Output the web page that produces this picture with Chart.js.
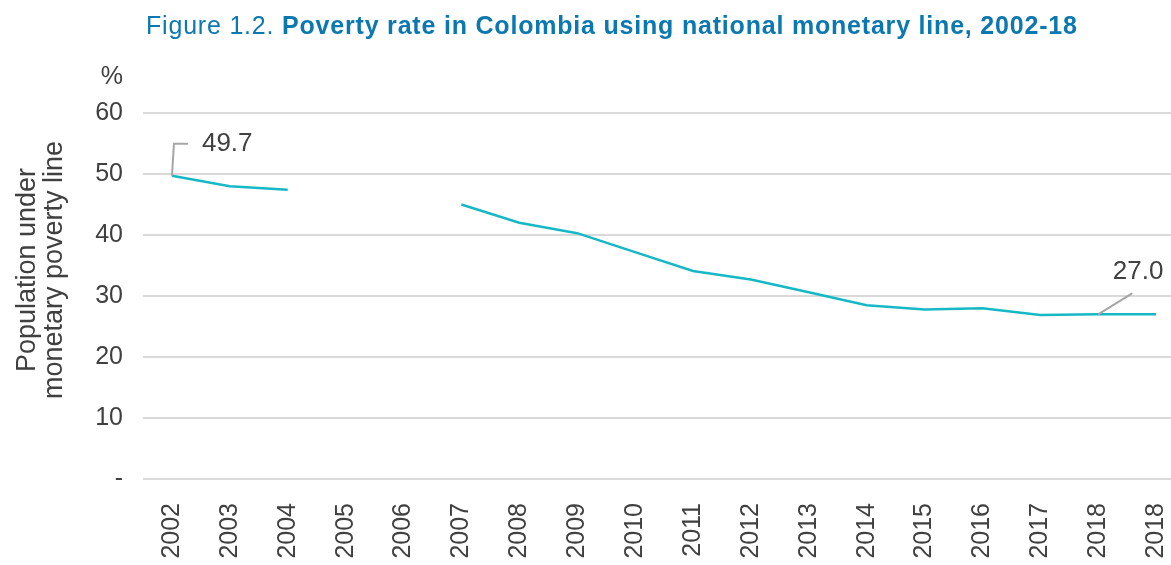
<!DOCTYPE html>
<html>
<head>
<meta charset="utf-8">
<script src="https://cdn.jsdelivr.net/npm/chart.js@4"></script>
<style>
  html, body { margin: 0; padding: 0; background: #ffffff; overflow: hidden; }
  #povertyChart { position: absolute; left: 0; top: 0; }
  #title {
    position: absolute; left: 146px; top: 13px; white-space: nowrap;
    font-family: "Liberation Sans", Arial, Helvetica, sans-serif;
    font-size: 25px; line-height: 25px; letter-spacing: 0.8px; color: #0b78b0; z-index: 2;
  }
  #title b { font-weight: bold; }
</style>
</head>
<body>
<div id="title">Figure 1.2. <b>Poverty rate in Colombia using national monetary line, 2002-18</b></div>
<canvas id="povertyChart" width="1185" height="565"></canvas>
<script>
// data
const years = ['2002', '2003', '2004', '2005', '2006', '2007', '2008', '2009', '2010',
               '2011', '2012', '2013', '2014', '2015', '2016', '2017', '2018', '2018'];
const povertyRate = [49.7, 48.0, 47.4, null, null, 45.0, 42.0, 40.3, 37.2,
                     34.1, 32.7, 30.6, 28.5, 27.8, 28.0, 26.9, 27.0, 27.0];
const yTicks = [0, 10, 20, 30, 40, 50, 60];
const labelledPoints = [0, 16];   // points that carry a value label
const yTitle = ['Population under', 'monetary poverty line'];
const yUnit = '%';

const FONT = '"Liberation Sans", Arial, Helvetica, sans-serif';
const TEXT = '#404040';

// value labels with leader lines + axis title + unit
const extrasPlugin = {
    id: 'extras',
    afterDraw(chart) {
        const ctx = chart.ctx;
        const meta = chart.getDatasetMeta(0);
        const yScale = chart.scales.y;
        ctx.save();
        ctx.font = '25px ' + FONT;
        ctx.fillStyle = TEXT;

        // unit above the y ticks
        ctx.textAlign = 'right';
        ctx.textBaseline = 'middle';
        ctx.fillText(yUnit, yScale.right - 20, yScale.top - 36);

        // rotated y-axis title
        ctx.save();
        ctx.font = '27px ' + FONT;
        ctx.translate(28, 270);
        ctx.rotate(-Math.PI / 2);
        ctx.textAlign = 'center';
        yTitle.forEach((line, i) => ctx.fillText(line, 0, i * 27));
        ctx.restore();

        // labels
        ctx.font = '26px ' + FONT;
        ctx.strokeStyle = '#a6a6a6';
        ctx.lineWidth = 2;
        labelledPoints.forEach((idx, n) => {
            const p = meta.data[idx];
            const txt = povertyRate[idx].toFixed(1);
            ctx.beginPath();
            if (n === 0) {
                ctx.moveTo(p.x, p.y);
                ctx.lineTo(p.x + 2, p.y - 32);
                ctx.lineTo(p.x + 16, p.y - 32);
                ctx.stroke();
                ctx.textAlign = 'left';
                ctx.fillText(txt, p.x + 30, p.y - 32);
            } else {
                ctx.moveTo(p.x, p.y);
                ctx.lineTo(p.x + 34, p.y - 21);
                ctx.stroke();
                ctx.textAlign = 'center';
                ctx.fillText(txt, p.x + 40, p.y - 42);
            }
        });
        ctx.restore();
    }
};

new Chart(document.getElementById('povertyChart'), {
    type: 'line',
    data: {
        labels: years,
        datasets: [{
            data: povertyRate,
            borderColor: '#17b8c5',
            borderWidth: 2.5,
            pointRadius: 0,
            tension: 0,
            spanGaps: false
        }]
    },
    options: {
        responsive: false,
        animation: false,
        layout: { padding: { top: 113, left: 0, right: 0, bottom: 0 } },
        plugins: {
            legend: { display: false },
            tooltip: { enabled: false },
            title: { display: false }
        },
        scales: {
            x: {
                offset: true,
                grid: { display: false, drawTicks: false },
                border: { display: false },
                ticks: {
                    autoSkip: false,
                    maxRotation: 90,
                    minRotation: 90,
                    padding: 24,
                    color: TEXT,
                    font: { family: FONT, size: 25 }
                },
                afterFit: s => {
                    s.height = 86;
                    s.paddingLeft = 0;
                    s.paddingRight = 0;
                }
            },
            y: {
                min: 0,
                max: 60,
                afterBuildTicks: s => { s.ticks = yTicks.map(v => ({ value: v })); },
                grid: { color: '#d9d9d9', lineWidth: 2, drawTicks: false },
                border: { display: false },
                ticks: {
                    padding: 20,
                    color: TEXT,
                    font: { family: FONT, size: 25 },
                    callback: v => (v === 0 ? '-' : v)
                },
                afterFit: s => {
                    s.width = 143;
                    s.paddingTop = 0;
                    s.paddingBottom = 0;
                }
            }
        }
    },
    plugins: [extrasPlugin]
});
</script>
</body>
</html>
